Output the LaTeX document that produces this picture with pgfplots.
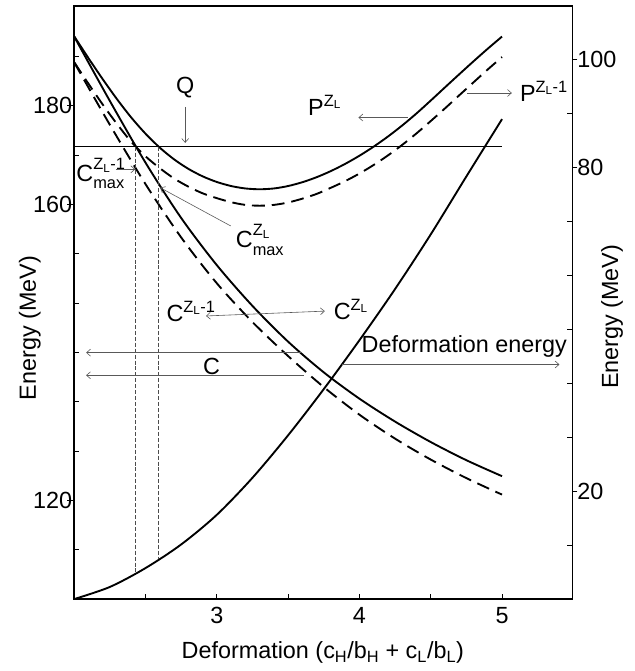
\documentclass[border=0pt]{standalone}
\usepackage{fontspec}
\setmainfont{Liberation Sans}
\usepackage{amsmath}
\usepackage{pgfplots}
\pgfplotsset{compat=1.18}
\usetikzlibrary{arrows.meta}
% C with raised superscript and lowered subscript, so the two do not touch
\newcommand{\Cmax}[1]{$\text{C}^{\raisebox{2bp}{$\scriptstyle #1$}}_{\raisebox{-1.5bp}{$\scriptstyle\text{max}$}}$}

\begin{document}
\fontsize{23.7}{28}\selectfont
\begin{tikzpicture}[
  note/.style={draw=black!65, line width=0.6bp, -{Straight Barb[length=4bp,width=7bp]}},
  note2/.style={draw=black!65, line width=0.6bp, {Straight Barb[length=4bp,width=7bp]}-{Straight Barb[length=4bp,width=7bp]}},
]
\pgfplotsset{
  every axis/.append style={
    width=503bp, height=599bp, scale only axis,
    xmin=2, xmax=5.493, ymin=0, ymax=110,
    axis line style={line width=1.6bp},
    tick style={line width=1bp, black},
    /pgf/number format/assume math mode=true,
    clip=false,
  },
}
\begin{axis}[
  name=main,
  xtick={3,4,5}, minor xtick={2.5,3.5,4.5}, xtick pos=bottom,
  tick align=inside, major tick length=5bp, minor tick length=5bp,
  ytick={9.146,27.44,36.58,45.73,54.88,64.02,82.31,100.61}, yticklabels={}, ytick pos=left,
  extra y ticks={18.29,73.17,91.46}, extra y tick labels={120,160,180},
  extra y tick style={tick align=outside, major tick length=7bp},
  yticklabel style={inner xsep=0pt, xshift=5bp},
  xlabel={Deformation (c\textsubscript{H}/b\textsubscript{H} + c\textsubscript{L}/b\textsubscript{L})},
  every axis x label/.style={at={(axis description cs:0.499,-0.1)}, anchor=base},
  ylabel={Energy (MeV)},
  every axis y label/.style={at={(axis description cs:-0.089,0.457)}, rotate=90, anchor=center},
]
% P^{Z_L}
\addplot[black, line width=1.9bp, smooth] coordinates {
(2.0,104.35) (2.1,100.3) (2.2,96.4) (2.3,92.7) (2.4,89.3) (2.5,86.3) (2.6,83.71)
(2.7,81.55) (2.8,79.79) (2.9,78.4) (3.0,77.35) (3.1,76.6) (3.2,76.15) (3.3,76.0)
(3.4,76.15) (3.5,76.6) (3.6,77.31) (3.7,78.24) (3.8,79.38) (3.9,80.71) (4.0,82.22)
(4.1,83.91) (4.2,85.78) (4.3,87.83) (4.4,90.06) (4.5,92.45) (4.6,94.9) (4.7,97.33)
(4.8,99.73) (4.9,102.07) (5.0,104.32)};
% P^{Z_L-1}
\addplot[black, line width=1.9bp, smooth, dash pattern=on 13bp off 7bp] coordinates {
(2.0,99.55) (2.1,95.55) (2.2,91.7) (2.3,88.1) (2.4,84.8) (2.5,82.1) (2.6,79.91)
(2.7,78.0) (2.8,76.49) (2.9,75.25) (3.0,74.35) (3.1,73.6) (3.2,73.1) (3.3,72.95)
(3.4,73.1) (3.5,73.55) (3.6,74.26) (3.7,75.14) (3.8,76.28) (3.9,77.51) (4.0,78.92)
(4.1,80.51) (4.2,82.28) (4.3,84.23) (4.4,86.36) (4.5,88.65) (4.6,91.0) (4.7,93.43)
(4.8,95.83) (4.9,98.22) (5.0,100.52)};
% C^{Z_L}
\addplot[black, line width=1.9bp, smooth] coordinates {
(2.0,104.3) (2.25,92.36) (2.5,80.92) (2.75,70.67) (3.0,61.92) (3.25,54.36)
(3.5,47.73) (3.75,42.04) (4.0,37.16) (4.25,32.91) (4.5,29.12) (4.75,25.75) (5.0,22.79)};
% C^{Z_L-1}
\addplot[black, line width=1.9bp, smooth, dash pattern=on 13bp off 7bp] coordinates {
(2.0,99.5) (2.25,87.94) (2.5,76.94) (2.75,67.06) (3.0,58.56) (3.25,51.37)
(3.5,45.06) (3.75,39.31) (4.0,34.19) (4.25,29.75) (4.5,25.87) (4.75,22.43) (5.0,19.37)};
% deformation energy
\addplot[black, line width=1.9bp, smooth] coordinates {
(2.0,0) (2.25,2.25) (2.5,5.75) (2.75,10.13) (3.0,15.63) (3.25,22.5) (3.5,30.38)
(3.75,38.94) (4.0,48.0) (4.25,57.5) (4.5,67.63) (4.75,78.38) (5.0,89.0)};
% Q
\addplot[black, line width=1.6bp] coordinates {(2,83.9) (5,83.9)};
% verticals
\addplot[black!70, line width=0.6bp, dash pattern=on 4bp off 2bp] coordinates {(2.431,83.9) (2.431,4.7)};
\addplot[black!70, line width=0.6bp, dash pattern=on 4bp off 2bp] coordinates {(2.59,83.9) (2.59,7.4)};

% annotations
\node[anchor=base] at (axis cs:2.778,93.7) {Q};
\draw[note] (axis cs:2.778,91.3) -- (axis cs:2.778,84.6);
\node[anchor=base west, inner sep=0pt] at (axis cs:2.014,77.5) {\Cmax{\text{Z}_\text{L}\text{-1}}};
\draw[note] (axis cs:2.292,79.7) -- (axis cs:2.428,79.7);
\node[anchor=base west, inner sep=0pt] at (axis cs:3.132,65.2) {\Cmax{\text{Z}_\text{L}}};
\draw[note] (axis cs:3.097,69.2) -- (axis cs:2.602,76.3);
\node[anchor=base west, inner sep=0pt] at (axis cs:2.646,51.4) {$\text{C}^{\text{Z}_\text{L}\text{-1}}$};
\node[anchor=base west, inner sep=0pt] at (axis cs:3.819,51.8) {$\text{C}^{\text{Z}_\text{L}}$};
\draw[note2] (axis cs:2.924,52.5) -- (axis cs:3.757,53.4);
\node[anchor=base west, inner sep=0pt] at (axis cs:2.903,41.7) {C};
\draw[note] (axis cs:3.597,45.7) -- (axis cs:2.083,45.7);
\draw[note] (axis cs:3.611,41.5) -- (axis cs:2.083,41.5);
\node[anchor=base west, inner sep=0pt] at (axis cs:4.014,45.7) {Deformation energy};
\draw[note] (axis cs:3.875,43.5) -- (axis cs:5.403,43.5);
\node[anchor=base west, inner sep=0pt] at (axis cs:3.639,89.6) {$\text{P}^{\text{Z}_\text{L}}$};
\draw[note] (axis cs:4.340,89.3) -- (axis cs:3.993,89.3);
\node[anchor=base west, inner sep=0pt] at (axis cs:5.125,92.2) {$\text{P}^{\text{Z}_\text{L}\text{-1}}$};
\draw[note] (axis cs:4.757,93.85) -- (axis cs:5.069,93.85);
\end{axis}

\begin{axis}[
  hide x axis, ytick pos=right, yticklabel pos=right,
  tick align=inside, major tick length=5bp,
  ytick={10,30,40,50,60,70,90}, yticklabels={},
  extra y ticks={20,80,100}, extra y tick labels={20,80,100},
  extra y tick style={tick align=outside, major tick length=5bp},
  yticklabel style={inner xsep=0pt},
  ylabel={Energy (MeV)},
  every axis y label/.style={at={(axis description cs:1.08,0.476)}, rotate=90, anchor=center},
]
\end{axis}
\path ([shift={(-75bp,-66bp)}]main.south west) rectangle ([shift={(63bp,6bp)}]main.north east);
\end{tikzpicture}
\end{document}
